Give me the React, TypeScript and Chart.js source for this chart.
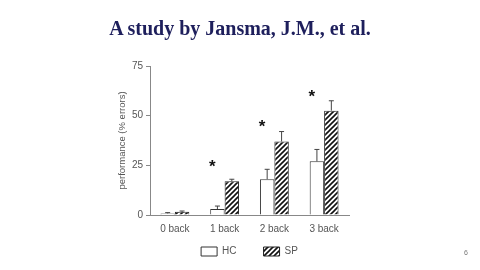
import React, { useEffect, useRef } from "react";
import { Chart, registerables } from "chart.js";

Chart.register(...registerables);

const categories = ["0 back", "1 back", "2 back", "3 back"];
const seriesNames = ["HC", "SP"];
const hcValues = [0.8, 3, 18, 27];
const hcErrors = [0.4, 1.5, 5, 6];
const spValues = [1.6, 17, 37, 52.5];
const spErrors = [0.4, 1, 5, 5];
const starValues: (number | null)[] = [null, 26.5, 46.5, 61.5];
const yMin = 0;
const yMax = 75;
const yStep = 25;
const titleText = "A study by Jansma, J.M., et al.";
const yAxisLabel = "performance (% errors)";
const pageNumber = "6";

function makeHatch(): CanvasPattern | string {
  const c = document.createElement("canvas");
  c.width = 5;
  c.height = 5;
  const g = c.getContext("2d");
  if (!g) return "#888";
  g.fillStyle = "#ffffff";
  g.fillRect(0, 0, 5, 5);
  g.strokeStyle = "#111111";
  g.lineWidth = 1.6;
  g.beginPath();
  g.moveTo(-1, 6);
  g.lineTo(6, -1);
  g.moveTo(-1, 1);
  g.lineTo(1, -1);
  g.moveTo(4, 6);
  g.lineTo(6, 4);
  g.stroke();
  const p = g.createPattern(c, "repeat");
  return p || "#888";
}

const errorBarPlugin = {
  id: "errorBars",
  afterDatasetsDraw(chart: any) {
    const ctx = chart.ctx;
    const y = chart.scales.y;
    const errs = [hcErrors, spErrors];
    chart.data.datasets.forEach((ds: any, di: number) => {
      const meta = chart.getDatasetMeta(di);
      meta.data.forEach((bar: any, i: number) => {
        const v = ds.data[i];
        const e = errs[di][i];
        const top = y.getPixelForValue(v + e);
        ctx.save();
        ctx.strokeStyle = "#444";
        ctx.lineWidth = 1;
        ctx.beginPath();
        ctx.moveTo(bar.x, bar.y);
        ctx.lineTo(bar.x, top);
        ctx.moveTo(bar.x - 2.5, top);
        ctx.lineTo(bar.x + 2.5, top);
        ctx.stroke();
        ctx.restore();
      });
    });
  },
};

const starPlugin = {
  id: "stars",
  afterDatasetsDraw(chart: any) {
    const ctx = chart.ctx;
    const y = chart.scales.y;
    const meta = chart.getDatasetMeta(0);
    meta.data.forEach((bar: any, i: number) => {
      const s = starValues[i];
      if (s === null || s === undefined) return;
      const px = bar.x - bar.width * 0.35;
      const py = y.getPixelForValue(s);
      ctx.save();
      ctx.fillStyle = "#111";
      ctx.font = "bold 17px 'Liberation Sans', Arial, sans-serif";
      ctx.textAlign = "center";
      ctx.textBaseline = "alphabetic";
      ctx.fillText("*", px, py + 9.5);
      ctx.restore();
    });
  },
};

export default function App() {
  const ref = useRef<HTMLCanvasElement | null>(null);

  useEffect(() => {
    if (!ref.current) return;
    Chart.defaults.font.family = "'Liberation Sans', Arial, sans-serif";
    const hatch = makeHatch();
    const chart = new Chart(ref.current, {
      type: "bar",
      data: {
        labels: categories,
        datasets: [
          {
            label: seriesNames[0],
            data: hcValues,
            backgroundColor: "#ffffff",
            borderColor: "#333",
            borderWidth: 1,
            categoryPercentage: 0.58,
            barPercentage: 1,
          },
          {
            label: seriesNames[1],
            data: spValues,
            backgroundColor: hatch as any,
            borderColor: "#222",
            borderWidth: 1,
            categoryPercentage: 0.58,
            barPercentage: 1,
          },
        ],
      },
      options: {
        responsive: false,
        animation: false,
        layout: { padding: { top: 66, left: 113, right: 131, bottom: 3.5 } },
        plugins: {
          title: { display: false },
          tooltip: { enabled: false },
          legend: {
            display: true,
            position: "bottom",
            fullSize: false,
            labels: {
              boxWidth: 16,
              boxHeight: 9,
              padding: 27,
              color: "#555",
              font: { size: 10 },
            },
          },
        },
        scales: {
          x: {
            grid: { display: false },
            border: { display: true, color: "#888", width: 1 },
            ticks: { color: "#555", font: { size: 10 }, mirror: true, padding: -20 },
            afterFit: (s: any) => {
              s.height = 4.5;
            },
          },
          y: {
            min: yMin,
            max: yMax,
            ticks: { stepSize: yStep, color: "#555", font: { size: 10 }, padding: 3 },
            grid: { display: true, drawOnChartArea: false, drawTicks: true, tickLength: 4, color: "#888" },
            border: { display: true, color: "#888", width: 1 },
            title: {
              display: true,
              text: yAxisLabel,
              color: "#555",
              font: { size: 9.5 },
              padding: { top: 4, bottom: 0 },
            },
            afterFit: (s: any) => {
              s.width = 37;
            },
          },
        },
      },
      plugins: [errorBarPlugin, starPlugin],
    });
    return () => chart.destroy();
  }, []);

  return (
    <div style={{ position: "absolute", left: 0, top: 0, width: 480, height: 270, background: "#fff", overflow: "hidden" }}>
      <canvas ref={ref} width={480} height={270} style={{ display: "block", position: "absolute", left: 0, top: 0 }} />
      <div
        style={{
          position: "absolute",
          left: 0,
          top: 18,
          width: 480,
          textAlign: "center",
          fontFamily: "'Liberation Serif', 'Times New Roman', serif",
          fontWeight: "bold",
          fontSize: 20,
          lineHeight: "20px",
          color: "#1e1f5c",
          whiteSpace: "nowrap",
        }}
      >
        {titleText}
      </div>
      <div
        style={{
          position: "absolute",
          left: 462,
          top: 248,
          width: 8,
          textAlign: "center",
          fontFamily: "'Liberation Sans', Arial, sans-serif",
          fontSize: 7,
          lineHeight: "10px",
          color: "#777",
        }}
      >
        {pageNumber}
      </div>
    </div>
  );
}
